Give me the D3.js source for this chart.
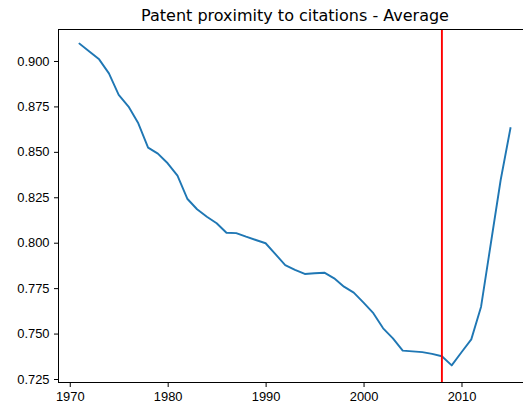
<!DOCTYPE html>
<html>
<head>
<meta charset="utf-8">
<script src="https://cdn.jsdelivr.net/npm/d3@7"></script>
<style>
  body { margin: 0; background: #fff; }
  svg { display: block; font-family: "DejaVu Sans", sans-serif; }
  .axis text { font-size: 12.9px; fill: #000; }
  .axis path, .axis line { stroke: #000; stroke-width: 1px; }
</style>
</head>
<body>
<svg id="chart" width="523" height="406"></svg>
<script>
// data
var years = d3.range(1971, 2016);
var values = [
    0.9095, 0.9052, 0.9009, 0.8932, 0.8813, 0.8749, 0.8657, 0.8523, 0.8490, 0.8437,
    0.8369, 0.8242, 0.8184, 0.8143, 0.8107, 0.8055, 0.8053, 0.8033, 0.8015, 0.7997,
    0.7937, 0.7877, 0.7850, 0.7828, 0.7832, 0.7835, 0.7804, 0.7758, 0.7725, 0.7670,
    0.7612, 0.7529, 0.7474, 0.7406, 0.7402, 0.7398, 0.7388, 0.7375, 0.7325, 0.7397,
    0.7468, 0.7648, 0.7997, 0.8345, 0.8630
];
var yTicks = [0.725, 0.750, 0.775, 0.800, 0.825, 0.850, 0.875, 0.900];
var xTicks = [1970, 1980, 1990, 2000, 2010];
var markerYear = 2008;
var title = "Patent proximity to citations - Average";

var svg = d3.select('#chart');
var margin = {top: 29, right: -9, bottom: 24, left: 58};
var width = +svg.attr("width");
var height = +svg.attr("height");

var x = d3.scaleLinear()
    .domain([1968.8, 2017.2])
    .range([margin.left, width - margin.right]);

var y = d3.scaleLinear()
    .domain([0.72335, 0.9176])
    .range([height - margin.bottom, margin.top]);

var data = years.map(function(d, i) { return {year: d, value: values[i]}; });

var line = d3.line()
    .x(function(d) { return x(d.year); })
    .y(function(d) { return y(d.value); });

svg.append("path")
    .datum(data)
    .attr("fill", "none")
    .attr("stroke", "#1f77b4")
    .attr("stroke-width", 1.9)
    .attr("stroke-linejoin", "round")
    .attr("stroke-linecap", "square")
    .attr("d", line);

// vertical marker
svg.append("line")
    .attr("x1", x(markerYear)).attr("x2", x(markerYear))
    .attr("y1", margin.top).attr("y2", height - margin.bottom)
    .attr("stroke", "#ff0000")
    .attr("stroke-width", 1.9);

// spines
svg.append("rect")
    .attr("x", margin.left + 0.5)
    .attr("y", margin.top + 0.5)
    .attr("width", x.range()[1] - margin.left)
    .attr("height", height - margin.bottom - margin.top)
    .attr("fill", "none")
    .attr("stroke", "#000")
    .attr("stroke-width", 1);

var xAxis = d3.axisBottom(x)
    .tickValues(xTicks)
    .tickFormat(d3.format("d"))
    .tickSize(4.5)
    .tickPadding(4.5);

var yAxis = d3.axisLeft(y)
    .tickValues(yTicks)
    .tickFormat(d3.format(".3f"))
    .tickSize(4.5)
    .tickPadding(4.5);

svg.append("g")
    .attr("class", "axis")
    .attr("transform", "translate(0," + (height - margin.bottom + 0.5) + ")")
    .call(xAxis)
    .call(function(g) { g.select(".domain").remove(); });

svg.append("g")
    .attr("class", "axis")
    .attr("transform", "translate(" + (margin.left + 0.5) + ",0)")
    .call(yAxis)
    .call(function(g) { g.select(".domain").remove(); });

svg.append("text")
    .attr("x", (margin.left + x.range()[1]) / 2)
    .attr("y", 20.5)
    .attr("text-anchor", "middle")
    .style("font-size", "16px")
    .attr("fill", "#000")
    .text(title);
</script>
</body>
</html>
